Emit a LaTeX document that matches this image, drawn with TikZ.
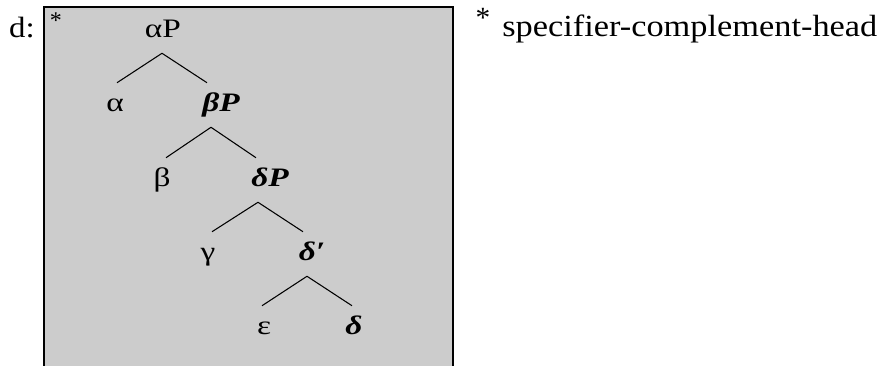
\documentclass[tikz,border=0pt]{standalone}
\usepackage{fontspec}
\setmainfont{Liberation Serif}
\newfontfamily\treefont[FakeStretch=1.25]{Liberation Serif}
\newfontfamily\notefont[FakeStretch=1.12]{Liberation Serif}
\usetikzlibrary{calc}
\definecolor{boxgray}{RGB}{204,204,204}

\begin{document}
\begin{tikzpicture}[x=0.75pt,y=-0.75pt,
  lbl/.style={inner sep=0pt,anchor=base,text height=21pt,text depth=12pt,font=\treefont\fontsize{20}{24}\selectfont},
  head/.style={lbl,font=\treefont\fontsize{20}{24}\selectfont\bfseries\itshape},
  branch/.style={line width=0.8pt}]
  \useasboundingbox (0,0) rectangle (893,365);
  % shaded frame, open at the bottom
  \fill[boxgray] (44,7) rectangle (453,370);
  \draw[line width=1.4pt] (44,370) -- (44,7) -- (453,7) -- (453,370);
  \node[anchor=base,inner sep=0pt,font=\notefont\fontsize{22}{26}\selectfont] (tag) at (22,37) {d:};
  \node[inner sep=0pt,font=\fontsize{18}{22}\selectfont] (mark) at (56,21) {*};
  % tree
  \node[lbl]  (aP)   at (163,37)  {αP};
  \node[lbl]  (a)    at (115,111) {α};
  \node[head] (bP)   at (221,111) {βP};
  \node[lbl]  (b)    at (162,186) {β};
  \node[head] (dP)   at (270,186) {δP};
  \node[lbl]  (g)    at (208,260) {γ};
  \node[head] (dbar) at (312,260) {δ′};
  \node[lbl]  (e)    at (264,334) {ε};
  \node[head] (d)    at (354,334) {δ};
  \draw[branch] ($(aP.south)+(-1,0)$) -- ($(a.north)+(2,0)$);
  \draw[branch] ($(aP.south)+(-1,0)$) -- ($(bP.north)+(-14,0)$);
  \draw[branch] ($(bP.south)+(-10,0)$) -- ($(b.north)+(4,0)$);
  \draw[branch] ($(bP.south)+(-10,0)$) -- ($(dP.north)+(-14,0)$);
  \draw[branch] ($(dP.south)+(-12,0)$) -- ($(g.north)+(4,0)$);
  \draw[branch] ($(dP.south)+(-12,0)$) -- ($(dbar.north)+(-9,0)$);
  \draw[branch] ($(dbar.south)+(-5,0)$) -- ($(e.north)+(-2,0)$);
  \draw[branch] ($(dbar.south)+(-5,0)$) -- ($(d.north)+(-2,0)$);
  % note on the right
  \node[inner sep=0pt,font=\fontsize{22}{26}\selectfont] (notestar) at (483,18) {*};
  \node[anchor=base west,inner sep=0pt,font=\notefont\fontsize{23}{27}\selectfont] (note) at (502,36) {specifier-complement-head};
\end{tikzpicture}
\end{document}
